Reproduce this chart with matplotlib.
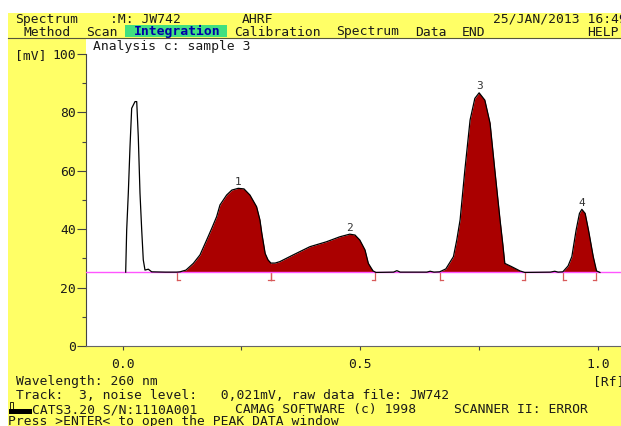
import matplotlib.pyplot as plt
from matplotlib.patches import Rectangle
from matplotlib.lines import Line2D
import numpy as np

W, H = 621, 426  # screen size in px

# densitogram trace
rf = [0.0067, 0.0088, 0.0122, 0.0158, 0.0193, 0.0263, 0.0299, 0.0332, 0.0368, 0.0404,
      0.0437, 0.0473, 0.0543, 0.0614, 0.090, 0.114, 0.121, 0.1335, 0.149, 0.163,
      0.177, 0.188, 0.198, 0.205, 0.219, 0.230, 0.2435, 0.2555, 0.268, 0.282,
      0.289, 0.293, 0.300, 0.306, 0.312, 0.321, 0.331, 0.359, 0.394, 0.429,
      0.457, 0.478, 0.489, 0.499, 0.510, 0.517, 0.523, 0.527, 0.533, 0.570,
      0.577, 0.584, 0.640, 0.647, 0.655, 0.667, 0.680, 0.696, 0.703, 0.710,
      0.720, 0.731, 0.741, 0.750, 0.762, 0.773, 0.783, 0.794, 0.800, 0.804,
      0.818, 0.836, 0.846, 0.900, 0.909, 0.916, 0.926, 0.937, 0.945, 0.954,
      0.961, 0.966, 0.973, 0.980, 0.990, 0.997, 1.004]
mv = [25.3, 39.7, 52.3, 68.3, 81.4, 83.7, 83.7, 71.7, 52.3, 39.7,
      29.5, 26.0, 26.3, 25.4, 25.3, 25.3, 25.4, 26.0, 28.3, 31.2,
      36.3, 40.4, 44.3, 48.3, 51.7, 53.4, 54.0, 53.8, 51.7, 47.7,
      43.2, 38.6, 31.7, 29.5, 28.4, 28.4, 28.9, 31.2, 34.0, 35.7,
      37.4, 38.3, 38.0, 36.3, 32.9, 28.3, 26.7, 25.7, 25.2, 25.3,
      25.8, 25.3, 25.3, 25.6, 25.3, 25.4, 26.4, 30.6, 36.3, 43.2,
      60.3, 77.4, 84.8, 86.7, 84.2, 76.3, 60.3, 43.2, 34.6, 28.3,
      27.2, 25.7, 25.2, 25.3, 25.6, 25.3, 25.4, 27.4, 30.6, 39.7,
      45.4, 46.8, 45.4, 39.7, 30.6, 25.7, 25.2]
baseline = 25.3

# integration windows
peak_start = [0.114, 0.312, 0.667, 0.926]
peak_end = [0.312, 0.531, 0.846, 0.996]
peak_no = ["1", "2", "3", "4"]

y_ticks = [0, 20, 40, 60, 80, 100]
y_minor = [10, 30, 50, 70, 90]
x_ticks = [0.0, 0.25, 0.5, 0.75, 1.0]
x_ticklabels = ["0.0", "", "0.5", "", "1.0"]

YELLOW = "#ffff66"
INK = "#1a1a1a"
FS = 9.4

plt.rcParams["font.family"] = ["DejaVu Sans Mono", "DejaVu Sans"]

fig = plt.figure(figsize=(W / 100, H / 100), dpi=100)
fig.patch.set_facecolor("white")


def fx(x):
    return x / W


def fy(y):
    return 1 - y / H


def put(x, y, s, **kw):
    kw.setdefault("color", INK)
    kw.setdefault("fontsize", FS)
    fig.text(fx(x), fy(y), s, va="baseline", ha=kw.pop("ha", "left"), **kw)


# screen background
fig.patches.append(Rectangle((fx(8), 0), 1 - fx(8), fy(13), transform=fig.transFigure,
                             facecolor=YELLOW, edgecolor="none", zorder=-10))
fig.patches.append(Rectangle((fx(125), fy(37)), fx(227) - fx(125), fy(25) - fy(37),
                             transform=fig.transFigure, facecolor="#40e080",
                             edgecolor="none", zorder=-5))
fig.lines.append(Line2D([fx(8), 1], [fy(37.5), fy(37.5)], transform=fig.transFigure,
                        color="#55553a", lw=0.8))
# cursor block
fig.patches.append(Rectangle((fx(9), fy(414)), fx(23), fy(409) - fy(414),
                             transform=fig.transFigure, facecolor="black", edgecolor="none"))
fig.patches.append(Rectangle((fx(9.5), fy(410)), fx(3.5), fy(402) - fy(410),
                             transform=fig.transFigure, facecolor="none",
                             edgecolor="black", lw=0.6))

# header / menu
put(15, 23, "Spectrum")
put(110, 23, ":M: JW742")
put(242, 23, "AHRF")
put(493, 23, "25/JAN/2013 16:49")
put(23, 35.5, "Method")
put(86, 35.5, "Scan")
put(134, 35.5, "Integration", color="#0000a8", fontweight="bold")
put(234, 35.5, "Calibration")
put(336, 35.5, "Spectrum")
put(415, 35.5, "Data")
put(462, 35.5, "END")
put(587, 35.5, "HELP")

# footer
put(16, 385, "Wavelength: 260 nm")
put(593, 385, "[Rf]")
put(16, 399, "Track:  3, noise level:   0,021mV, raw data file: JW742")
put(31.5, 413.3, "CATS3.20 S/N:1110A001")
put(235, 413.3, "CAMAG SOFTWARE (c) 1998")
put(454, 413.3, "SCANNER II: ERROR")
put(8.5, 425.5, "Press >ENTER< to open the PEAK DATA window")

# plot area
ax = fig.add_axes([fx(86), fy(346), 1 - fx(86), fy(38) - fy(346)])
ax.set_facecolor("white")
ax.set_xlim((86 - 122.5) / 475.5, (621 - 122.5) / 475.5)
ax.set_ylim(0, (346 - 38) / 2.92)

rf_a = np.array(rf)
mv_a = np.array(mv)
for s, e, n in zip(peak_start, peak_end, peak_no):
    m = (rf_a >= s) & (rf_a <= e)
    ax.fill_between(rf_a, baseline, mv_a, where=m, interpolate=True,
                    color="#aa0000", lw=0, zorder=2)
    i = np.flatnonzero(m)[np.argmax(mv_a[m])]
    ax.text(rf_a[i], mv_a[i] + 0.5, n, ha="center", va="bottom",
            fontsize=8, color="#333333", zorder=5)
    # integration limit markers
    for x0, d in ((s, 1), (e, -1)):
        ax.plot([x0, x0], [baseline - 0.3, baseline - 2.6], color="#d85a5a", lw=0.9, zorder=3)
        ax.plot([x0, x0 + d * 0.0065], [baseline - 2.6, baseline - 2.6],
                color="#d85a5a", lw=0.9, zorder=3)

ax.axhline(baseline, color="#ff55ff", lw=1, zorder=3)
ax.plot(rf_a, mv_a, color="black", lw=0.9, zorder=4)

put(93, 50, "Analysis c: sample 3")
put(15, 59.5, "[mV]")

ax.set_yticks(y_ticks)
ax.set_yticks(y_minor, minor=True)
ax.set_xticks(x_ticks)
ax.set_xticklabels(x_ticklabels)
ax.tick_params(axis="y", which="major", direction="out", length=6.5, width=0.8,
               color="#444444", labelsize=FS, labelcolor=INK, pad=0.8)
ax.tick_params(axis="y", which="minor", direction="out", length=3, width=0.8,
               color="#444444")
ax.tick_params(axis="x", direction="out", length=3, width=0.8, color="#444444",
               labelsize=FS, labelcolor=INK, pad=6)
for sp in ("top", "right"):
    ax.spines[sp].set_visible(False)
ax.spines["left"].set_bounds(0, 100)
ax.spines["left"].set_color("#444444")
ax.spines["bottom"].set_color("#666666")

plt.savefig("out.png", dpi=100)
